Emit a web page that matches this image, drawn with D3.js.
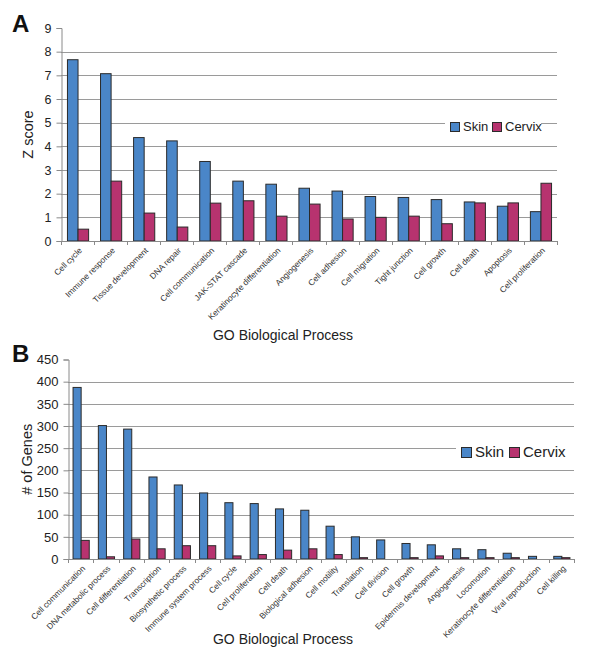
<!DOCTYPE html>
<html>
<head>
<meta charset="utf-8">
<script src="https://cdn.jsdelivr.net/npm/d3@7"></script>
<style>
  body { margin: 0; background: #fff; }
  svg { font-family: "Liberation Sans", Arial, sans-serif; }
</style>
</head>
<body>
<div id="chart"></div>
<script>
// Panel A: Z scores per GO process
var zCategories = ["Cell cycle", "Immune response", "Tissue development", "DNA repair",
  "Cell communication", "JAK-STAT cascade", "Keratinocyte differentiation", "Angiogenesis",
  "Cell adhesion", "Cell migration", "Tight junction", "Cell growth", "Cell death",
  "Apoptosis", "Cell proliferation"]
var zSkin   = [7.66, 7.07, 4.37, 4.23, 3.36, 2.53, 2.40, 2.23, 2.11, 1.88, 1.84, 1.75, 1.65, 1.47, 1.24]
var zCervix = [0.50, 2.53, 1.18, 0.59, 1.60, 1.70, 1.05, 1.56, 0.93, 1.00, 1.05, 0.73, 1.61, 1.61, 2.44]
var zTicks  = [0, 1, 2, 3, 4, 5, 6, 7, 8, 9]

// Panel B: number of genes per GO process
var geneCategories = ["Cell communication", "DNA metabolic process", "Cell differentiation",
  "Transcription", "Biosynthetic process", "Immune system process", "Cell cycle",
  "Cell proliferation", "Cell death", "Biological adhesion", "Cell motility", "Translation",
  "Cell division", "Cell growth", "Epidermis development", "Angiogenesis", "Locomotion",
  "Keratinocyte differentiation", "Viral reproduction", "Cell killing"]
var geneSkin   = [387, 301, 293, 185, 167, 149, 127, 125, 113, 110, 74, 50, 43, 35, 32, 23, 21, 13, 6, 6]
var geneCervix = [42, 5, 45, 23, 30, 30, 7, 10, 20, 23, 10, 3, 0, 3, 7, 3, 3, 3, 0, 3]
var geneTicks  = [0, 50, 100, 150, 200, 250, 300, 350, 400, 450]

var seriesNames = ["Skin", "Cervix"]
var COLORS = {Skin: "#4a86c8", Cervix: "#b7336f"}

var svg = d3.select("#chart").append("svg")
  .attr("width", 600)
  .attr("height", 655)

// draws one grouped bar panel
function drawPanel(opt) {
  var g = svg.append("g")

  var x = d3.scaleBand()
    .domain(opt.categories)
    .range([opt.left, opt.right])

  var x1 = d3.scaleBand()
    .domain(seriesNames)
    .range([x.bandwidth() * 0.18, x.bandwidth() * 0.82])

  var y = d3.scaleLinear()
    .domain([0, opt.ticks[opt.ticks.length - 1]])
    .range([opt.bottom, opt.top])

  // gridlines (none on the top value)
  g.selectAll(".grid")
    .data(opt.ticks.slice(1, -1))
    .enter().append("line")
    .attr("x1", opt.left)
    .attr("x2", opt.right)
    .attr("y1", d => Math.round(y(d)) + 0.5)
    .attr("y2", d => Math.round(y(d)) + 0.5)
    .attr("stroke", "#9a9a9a")

  // y axis
  var yAxis = g.append("g")
    .attr("transform", `translate(${Math.round(opt.left) + 0.5},0)`)
    .call(d3.axisLeft(y).tickValues(opt.ticks).tickSize(5).tickPadding(5))
  yAxis.select(".domain").attr("stroke", "#8a8a8a")
  yAxis.selectAll(".tick line").attr("stroke", "#8a8a8a")
  yAxis.selectAll(".tick text")
    .attr("font-size", opt.yFont)
    .attr("fill", "#222")
    .style("font-family", "Liberation Sans, Arial, sans-serif")

  // legend background covers gridlines
  g.append("rect")
    .attr("x", opt.legend.x - 5)
    .attr("y", opt.legend.y - 9)
    .attr("width", opt.legend.w)
    .attr("height", opt.legend.size + 12)
    .attr("fill", "#fff")

  // bars
  var groups = g.selectAll(".cat")
    .data(opt.categories)
    .enter().append("g")
    .attr("transform", d => `translate(${x(d)},0)`)

  groups.selectAll("rect")
    .data((d, i) => seriesNames.map(s => ({s: s, v: opt.values[s][i]})))
    .enter().append("rect")
    .attr("x", d => x1(d.s) + 0.5)
    .attr("y", d => y(d.v))
    .attr("width", x1.bandwidth())
    .attr("height", d => opt.bottom - y(d.v))
    .attr("fill", d => COLORS[d.s])
    .attr("stroke", d => d.v > 0 ? "#2b2b2b" : "none")
    .attr("stroke-width", 1)

  // x axis
  g.append("line")
    .attr("x1", opt.left)
    .attr("x2", opt.right)
    .attr("y1", Math.round(opt.bottom) + 0.5)
    .attr("y2", Math.round(opt.bottom) + 0.5)
    .attr("stroke", "#8a8a8a")

  var bounds = opt.categories.map(c => x(c)).concat([opt.right])
  g.selectAll(".xtick")
    .data(bounds)
    .enter().append("line")
    .attr("x1", d => Math.round(d) + 0.5)
    .attr("x2", d => Math.round(d) + 0.5)
    .attr("y1", opt.bottom)
    .attr("y2", opt.bottom + 4)
    .attr("stroke", "#8a8a8a")

  g.selectAll(".xlabel")
    .data(opt.categories)
    .enter().append("text")
    .attr("transform", d => `translate(${x(d) + x.bandwidth() / 2 + 5},${opt.bottom + 10}) rotate(-45)`)
    .attr("text-anchor", "end")
    .attr("font-size", 8.3)
    .attr("fill", "#333")
    .text(d => d)

  // legend
  seriesNames.forEach(function(s, i) {
    var lx = opt.legend.x + i * opt.legend.step
    g.append("rect")
      .attr("x", lx + 0.5)
      .attr("y", opt.legend.y + 0.5)
      .attr("width", opt.legend.size)
      .attr("height", opt.legend.size)
      .attr("fill", COLORS[s])
      .attr("stroke", "#2b2b2b")
    g.append("text")
      .attr("x", lx + opt.legend.size + 4)
      .attr("y", opt.legend.y + opt.legend.size)
      .attr("font-size", opt.legend.font)
      .attr("fill", "#222")
      .text(s)
  })

  // axis titles and panel letter
  g.append("text")
    .attr("transform", `translate(${opt.yTitleX},${(opt.top + opt.bottom) / 2}) rotate(-90)`)
    .attr("text-anchor", "middle")
    .attr("font-size", 14.5)
    .attr("fill", "#222")
    .text(opt.yTitle)

  g.append("text")
    .attr("x", 283)
    .attr("y", opt.xTitleY)
    .attr("text-anchor", "middle")
    .attr("font-size", 14)
    .attr("fill", "#222")
    .text("GO Biological Process")

  g.append("text")
    .attr("x", 12)
    .attr("y", opt.letterY)
    .attr("font-size", 24)
    .attr("font-weight", "bold")
    .attr("fill", "#111")
    .text(opt.letter)
}

drawPanel({
  categories: zCategories,
  values: {Skin: zSkin, Cervix: zCervix},
  ticks: zTicks,
  left: 61, right: 557, top: 28, bottom: 241,
  yFont: 12.5, yTitle: "Z score", yTitleX: 33,
  xTitleY: 340, letter: "A", letterY: 32,
  legend: {x: 450, y: 122, size: 9, step: 42, w: 96, font: 13}
})

drawPanel({
  categories: geneCategories,
  values: {Skin: geneSkin, Cervix: geneCervix},
  ticks: geneTicks,
  left: 68, right: 574, top: 359.5, bottom: 559,
  yFont: 13, yTitle: "# of Genes", yTitleX: 32,
  xTitleY: 644, letter: "B", letterY: 362,
  legend: {x: 461, y: 447, size: 10, step: 48, w: 118, font: 15}
})
</script>
</body>
</html>
